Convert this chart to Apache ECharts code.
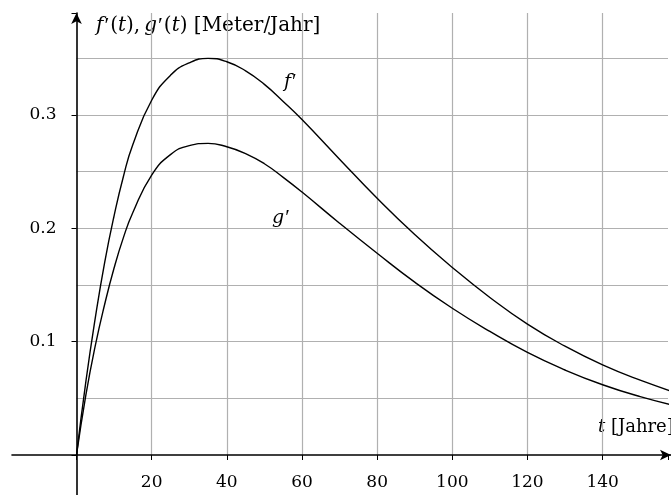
<!DOCTYPE html>
<html>
<head>
<meta charset="utf-8">
<script src="https://cdn.jsdelivr.net/npm/echarts@6/dist/echarts.min.js"></script>
<style>
html, body { margin: 0; padding: 0; background: #fff; }
#main { width: 671px; height: 495px; }
</style>
</head>
<body>
<div id="main"></div>
<script>
// t in Jahren
var tWerte = [0, 2.5, 5, 7.5, 10, 12.5, 15, 20, 25, 30, 35, 40, 45, 50, 55, 60, 70, 80, 90, 100, 110, 120, 130, 140, 150, 160];
var fWerte = [0, 0.065, 0.121, 0.170, 0.211, 0.246, 0.274, 0.313, 0.335, 0.346, 0.350, 0.347, 0.339, 0.327, 0.312, 0.296, 0.261, 0.2265, 0.1945, 0.1655, 0.139, 0.1155, 0.096, 0.0795, 0.066, 0.0545];
var gWerte = [0, 0.053, 0.0965, 0.133, 0.165, 0.192, 0.214, 0.247, 0.265, 0.273, 0.275, 0.272, 0.266, 0.257, 0.245, 0.232, 0.2045, 0.178, 0.1525, 0.1295, 0.109, 0.0905, 0.075, 0.062, 0.0515, 0.043];
var xTicks = [20, 40, 60, 80, 100, 120, 140];
var yTicks = [0.1, 0.2, 0.3];

var schrift = 'DejaVu Serif';
var grau = '#b0b0b0';

function paare(ys) {
    var out = [];
    for (var i = 0; i < tWerte.length; i++) out.push([tWerte[i], ys[i]]);
    return out;
}

// Formel-Stil: kursiver Buchstabe, Strich aus Liberation Serif
function formel(gr) {
    return {
        i: { fontStyle: 'italic', fontFamily: schrift, fontSize: gr },
        p: { fontFamily: 'Liberation Serif', fontSize: gr + 2, padding: [0, 1, 0, 1] }
    };
}

var dom = document.getElementById('main');
var myChart = echarts.init(dom);
var option = {
    animation: false,
    grid: [
        { left: 76.5, top: 13, right: 0, bottom: 40 },   // Gitter + Kurven
        { left: 12, top: 13, right: 0, bottom: 0 }        // Achsen mit Pfeilen
    ],
    xAxis: [{
        gridIndex: 0, type: 'value', min: 0, max: 157.4, interval: 20,
        axisLine: { show: false, onZero: false },
        axisTick: { show: true, length: 5, lineStyle: { color: '#000', width: 1 } },
        axisLabel: {
            margin: 19, color: '#000', fontFamily: schrift, fontSize: 17,
            formatter: function (v) { return xTicks.indexOf(v) >= 0 ? String(v) : ''; }
        },
        splitLine: { show: true, showMinLine: false, showMaxLine: false, lineStyle: { color: grau, width: 1.2 } }
    }, {
        gridIndex: 1, type: 'value', min: -17.08, max: 157.4,
        axisLine: { show: true, onZero: true, symbol: ['none', 'arrow'], symbolSize: [8, 11], lineStyle: { color: '#000', width: 1.6 } },
        axisTick: { show: false }, axisLabel: { show: false }, splitLine: { show: false }
    }],
    yAxis: [{
        gridIndex: 0, type: 'value', position: 'left', min: 0, max: 0.39, interval: 0.05,
        axisLine: { show: false, onZero: false }, axisTick: { show: false }, axisLabel: { show: false },
        splitLine: { show: true, showMinLine: false, showMaxLine: false, lineStyle: { color: grau, width: 1.2 } }
    }, {
        gridIndex: 0, type: 'value', position: 'left', min: 0, max: 0.39, interval: 0.1,
        axisLine: { show: false, onZero: false },
        axisTick: { show: true, length: 5, lineStyle: { color: '#000', width: 1 } },
        axisLabel: {
            margin: 20, color: '#000', fontFamily: schrift, fontSize: 17,
            formatter: function (v) {
                for (var i = 0; i < yTicks.length; i++) if (Math.abs(v - yTicks[i]) < 1e-6) return yTicks[i].toFixed(1);
                return '';
            }
        },
        splitLine: { show: false }
    }, {
        gridIndex: 1, type: 'value', min: -0.0353, max: 0.39,
        axisLine: { show: true, onZero: true, symbol: ['none', 'arrow'], symbolSize: [8, 11], lineStyle: { color: '#000', width: 1.6 } },
        axisTick: { show: false }, axisLabel: { show: false }, splitLine: { show: false }
    }],
    series: [{
        name: "f'", type: 'line', xAxisIndex: 0, yAxisIndex: 0,
        data: paare(fWerte), smooth: 0.5, showSymbol: false, clip: true,
        lineStyle: { color: '#000', width: 1.4 }
    }, {
        name: "g'", type: 'line', xAxisIndex: 0, yAxisIndex: 0,
        data: paare(gWerte), smooth: 0.5, showSymbol: false, clip: true,
        lineStyle: { color: '#000', width: 1.4 }
    }],
    graphic: [{
        type: 'text', left: 96, top: 15,
        style: {
            text: '{i|f}{p|′}({i|t}),\u2009{i|g}{p|′}({i|t}) [Meter/Jahr]',
            font: '20px "DejaVu Serif"', fill: '#000',
            rich: formel(20)
        }
    }, {
        type: 'text', left: 284, top: 72,
        style: { text: '{i|f}{p|′}', fill: '#000', rich: formel(19) }
    }, {
        type: 'text', left: 272, top: 208,
        style: { text: '{i|g}{p|′}', fill: '#000', rich: formel(19) }
    }, {
        type: 'text', left: 598, top: 418,
        style: {
            text: '{i|t} [Jahre]', font: '18px "DejaVu Serif"', fill: '#000',
            rich: { i: { fontStyle: 'italic', fontFamily: schrift, fontSize: 18 } }
        }
    }]
};
if (option && typeof option === 'object') {
    myChart.setOption(option, true);
}
</script>
</body>
</html>
